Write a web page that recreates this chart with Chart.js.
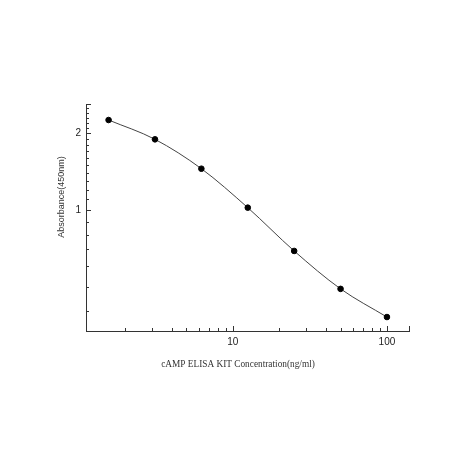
<!DOCTYPE html>
<html>
<head>
<meta charset="utf-8">
<script src="https://cdn.jsdelivr.net/npm/chart.js@4.4.1/dist/chart.umd.min.js"></script>
<style>
  html, body { margin: 0; background: #fff; }
  #wrap { width: 474px; height: 474px; }
</style>
</head>
<body>
<div id="wrap"><canvas id="chart" width="474" height="474"></canvas></div>
<script>
// standard curve points
const concentration = [1.5625, 3.125, 6.25, 12.5, 25, 50, 100];
const absorbance = [2.25, 1.89, 1.45, 1.02, 0.69, 0.49, 0.38];

// axis ticks
const xMajorTicks = [10, 100];
const xMinorTicks = [2, 3, 4, 5, 6, 7, 8, 9, 20, 30, 40, 50, 60, 70, 80, 90];
const yMajorTicks = [1, 2];
const yMinorTicks = [0.4, 0.5, 0.6, 0.7, 0.8, 0.9, 1.1, 1.2, 1.3, 1.4, 1.5, 1.6, 1.7, 1.8, 1.9,
                     2.1, 2.2, 2.3, 2.4, 2.5];
const xRange = [1.115, 139];
const yRange = [0.335, 2.6];

const xTitle = "cAMP ELISA KIT Concentration(ng/ml)";
const yTitle = "Absorbance(450nm)";

const axisColor = "#333";

// ticks point into the plot, so draw them by hand from the scales
const innerTicks = {
  id: "innerTicks",
  afterDraw(chart) {
    const ctx = chart.ctx;
    const x = chart.scales.x, y = chart.scales.y;
    ctx.save();
    ctx.strokeStyle = axisColor;
    ctx.lineWidth = 1;
    ctx.beginPath();
    x.ticks.forEach(t => {
      const len = xMajorTicks.includes(t.value) || t.value === x.max ? 5 : 3;
      const px = Math.round(x.getPixelForValue(t.value)) + 0.5;
      ctx.moveTo(px, x.top);
      ctx.lineTo(px, x.top - len);
    });
    y.ticks.forEach(t => {
      const len = yMajorTicks.includes(t.value) || t.value === y.max ? 5 : 3;
      const py = Math.round(y.getPixelForValue(t.value)) + 0.5;
      ctx.moveTo(y.right, py);
      ctx.lineTo(y.right + len, py);
    });
    ctx.stroke();

    // axis titles
    ctx.fillStyle = "#333";
    ctx.textAlign = "center";
    ctx.textBaseline = "middle";
    ctx.font = "9.3px 'Liberation Serif'";
    ctx.fillText(xTitle, 238, 365);
    ctx.translate(62, 197);
    ctx.rotate(-Math.PI / 2);
    ctx.font = "9px 'Liberation Sans'";
    ctx.fillText(yTitle, 0, 0);
    ctx.restore();
  }
};

new Chart(document.getElementById("chart"), {
  type: "line",
  data: {
    datasets: [{
      data: concentration.map((c, i) => ({ x: c, y: absorbance[i] })),
      borderColor: "#444",
      borderWidth: 1,
      pointRadius: 2.8,
      pointBackgroundColor: "#000",
      pointBorderColor: "#000",
      cubicInterpolationMode: "monotone",
      fill: false
    }]
  },
  options: {
    responsive: false,
    animation: false,
    layout: { padding: { left: 0, top: 104, right: 65, bottom: 0 } },
    plugins: { legend: { display: false }, tooltip: { enabled: false } },
    scales: {
      x: {
        type: "logarithmic",
        bounds: "data",
        min: xRange[0],
        max: xRange[1],
        afterBuildTicks: s => {
          s.ticks = xMinorTicks.concat(xMajorTicks, [xRange[1]]).sort((a, b) => a - b).map(v => ({ value: v }));
        },
        afterFit: s => { s.height = 143; },
        grid: { display: false, drawTicks: false },
        border: { color: axisColor, width: 1 },
        ticks: {
          autoSkip: false,
          maxRotation: 0,
          padding: 5,
          color: "#222",
          font: { family: "Liberation Sans", size: 10 },
          callback: v => xMajorTicks.includes(v) ? String(v) : ""
        }
      },
      y: {
        type: "logarithmic",
        bounds: "data",
        min: yRange[0],
        max: yRange[1],
        afterBuildTicks: s => {
          s.ticks = yMinorTicks.concat(yMajorTicks, [yRange[1]]).sort((a, b) => a - b).map(v => ({ value: v }));
        },
        afterFit: s => { s.width = 86; },
        grid: { display: false, drawTicks: false },
        border: { color: axisColor, width: 1 },
        ticks: {
          autoSkip: false,
          padding: 5,
          color: "#222",
          font: { family: "Liberation Sans", size: 10 },
          callback: v => yMajorTicks.includes(v) ? String(v) : ""
        }
      }
    }
  },
  plugins: [innerTicks]
});
</script>
</body>
</html>
